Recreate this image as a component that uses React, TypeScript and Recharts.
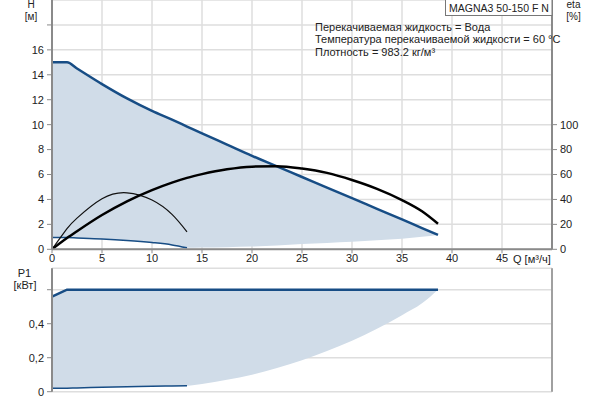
import React from "react";
import {
  Area,
  CartesianGrid,
  ComposedChart,
  Line,
  XAxis,
  YAxis,
} from "recharts";

// Q grid [m³/h], shared by both panels
const qPoints = [0, 1.5, 2.5, 5, 7.5, 10, 12, 13.5, 15, 17.5, 20, 22.5, 25, 27.5, 30, 32.5, 35, 37, 38.6];

// head [m]
const headMax = [15, 15, 14.5, 13.25, 12.1, 11.1, 10.4, 9.85, 9.3, 8.4, 7.5, 6.65, 5.8, 4.95, 4.1, 3.25, 2.4, 1.7, 1.15];
const headMin = [0.95, 0.94, 0.91, 0.83, 0.71, 0.54, 0.35, 0.12, null, null, null, null, null, null, null, null, null, null, null];
const headLow = [0.95, 0.94, 0.91, 0.83, 0.71, 0.54, 0.35, 0.12, 0.14, 0.17, 0.22, 0.3, 0.42, 0.51, 0.6, 0.72, 0.85, 1.0, 1.15];

// efficiency [%]
const etaMax = [0, 9, 14.5, 27.5, 38.5, 47.5, 53.5, 57.3, 60.3, 64.2, 66.3, 66.7, 64.8, 61.3, 55.6, 48.5, 39.5, 30.5, 20.5];
const etaMin = [0, 16.5, 25, 40.5, 45.3, 39.5, 28, 14, null, null, null, null, null, null, null, null, null, null, null];

// power P1 [kW]
const p1Max = [0.56, 0.6, 0.6, 0.6, 0.6, 0.6, 0.6, 0.6, 0.6, 0.6, 0.6, 0.6, 0.6, 0.6, 0.6, 0.6, 0.6, 0.6, 0.6];
const p1Min = [0.02, 0.021, 0.022, 0.026, 0.029, 0.032, 0.034, 0.035, null, null, null, null, null, null, null, null, null, null, null];
const p1Low = [0.02, 0.021, 0.022, 0.026, 0.029, 0.032, 0.034, 0.035, 0.045, 0.07, 0.1, 0.14, 0.185, 0.24, 0.3, 0.37, 0.45, 0.52, 0.6];

const qTicks = [0, 5, 10, 15, 20, 25, 30, 35, 40, 45];
const hTicks = [0, 2, 4, 6, 8, 10, 12, 14, 16, 18];
const etaTicks = [0, 20, 40, 60, 80, 100];
const p1Ticks = [0, 0.2, 0.4, 0.6];

const infoLines = [
  "Перекачиваемая жидкость = Вода",
  "Температура перекачиваемой жидкости = 60 °C",
  "Плотность = 983.2 кг/м³",
];

const rows = qPoints.map((q, i) => ({
  q,
  headMax: headMax[i],
  headMin: headMin[i],
  headLow: headLow[i],
  etaMax: etaMax[i],
  etaMin: etaMin[i],
  p1Max: p1Max[i],
  p1Min: p1Min[i],
  p1Low: p1Low[i],
}));

const AXIS = "#8a8a8a";
const GRID = "#dedede";
const FILL = "#d0dce8";
const BLUE = "#174d85";
const tickStyle = { fontSize: 11, fill: "#222" };

export default function App() {
  return (
    <div
      style={{
        position: "absolute",
        left: 0,
        top: 0,
        width: 600,
        height: 400,
        background: "#fff",
        overflow: "hidden",
        fontFamily: "'Liberation Sans', Arial, sans-serif",
      }}
    >
      <div style={{ position: "absolute", left: 0, top: 0 }}>
        <ComposedChart
          width={600}
          height={270}
          data={rows}
          margin={{ top: 0, right: 0, bottom: 0, left: 0 }}
        >
          <CartesianGrid yAxisId="h" stroke={GRID} strokeWidth={1.5} />
          <XAxis
            dataKey="q"
            type="number"
            domain={[0, 50]}
            ticks={qTicks}
            height={20.7}
            tick={tickStyle}
            tickSize={4}
            tickMargin={1}
            axisLine={{ stroke: AXIS, strokeWidth: 2 }}
            tickLine={{ stroke: AXIS }}
          />
          <YAxis
            yAxisId="h"
            type="number"
            domain={[0, 20]}
            ticks={hTicks}
            width={52}
            tick={tickStyle}
            tickSize={5}
            tickMargin={3}
            tickFormatter={(v: number) => (v === 18 ? "" : String(v))}
            axisLine={{ stroke: AXIS, strokeWidth: 2 }}
            tickLine={{ stroke: AXIS }}
          />
          <YAxis
            yAxisId="eta"
            orientation="right"
            type="number"
            domain={[0, 200]}
            ticks={etaTicks}
            width={48}
            tick={tickStyle}
            tickSize={5}
            tickMargin={3}
            axisLine={{ stroke: AXIS, strokeWidth: 2 }}
            tickLine={{ stroke: AXIS }}
          />
          <Area
            yAxisId="h"
            type="monotone"
            dataKey={(d: any) => [d.headLow, d.headMax]}
            fill={FILL}
            fillOpacity={1}
            stroke="none"
            isAnimationActive={false}
          />
          <Line
            yAxisId="h"
            type="monotone"
            dataKey="headMin"
            stroke={BLUE}
            strokeWidth={1.5}
            dot={false}
            isAnimationActive={false}
          />
          <Line
            yAxisId="h"
            type="monotone"
            dataKey="headMax"
            stroke={BLUE}
            strokeWidth={2.5}
            dot={false}
            isAnimationActive={false}
          />
          <Line
            yAxisId="eta"
            type="natural"
            dataKey="etaMin"
            stroke="#111"
            strokeWidth={1.2}
            dot={false}
            isAnimationActive={false}
          />
          <Line
            yAxisId="eta"
            type="monotone"
            dataKey="etaMax"
            stroke="#000"
            strokeWidth={2.5}
            dot={false}
            isAnimationActive={false}
          />
        </ComposedChart>
      </div>

      <div style={{ position: "absolute", left: 0, top: 262 }}>
        <ComposedChart
          width={600}
          height={138}
          data={rows}
          margin={{ top: 6.3, right: 0, bottom: 8.3, left: 0 }}
        >
          <CartesianGrid yAxisId="p" stroke={GRID} strokeWidth={1.5} />
          <XAxis
            dataKey="q"
            type="number"
            domain={[0, 50]}
            ticks={qTicks}
            height={0}
            tick={false}
            tickLine={false}
            axisLine={{ stroke: AXIS, strokeWidth: 2 }}
          />
          <XAxis
            xAxisId="top"
            orientation="top"
            dataKey="q"
            type="number"
            domain={[0, 50]}
            height={0}
            tick={false}
            tickLine={false}
            axisLine={{ stroke: "#a0a0a0", strokeWidth: 2 }}
          />
          <YAxis
            yAxisId="p"
            type="number"
            domain={[0, 0.726]}
            ticks={p1Ticks}
            width={52}
            tick={tickStyle}
            tickSize={5}
            tickMargin={3}
            tickFormatter={(v: number) =>
              v === 0.6 ? "" : String(v).replace(".", ",")
            }
            axisLine={{ stroke: AXIS, strokeWidth: 2 }}
            tickLine={{ stroke: AXIS }}
          />
          <YAxis
            yAxisId="r"
            orientation="right"
            width={48}
            tick={false}
            tickLine={false}
            axisLine={{ stroke: "#a0a0a0", strokeWidth: 2 }}
          />
          <Area
            yAxisId="p"
            type="monotone"
            dataKey={(d: any) => [d.p1Low, d.p1Max]}
            fill={FILL}
            fillOpacity={1}
            stroke="none"
            isAnimationActive={false}
          />
          <Line
            yAxisId="p"
            type="monotone"
            dataKey="p1Min"
            stroke={BLUE}
            strokeWidth={1.5}
            dot={false}
            isAnimationActive={false}
          />
          <Line
            yAxisId="p"
            type="linear"
            dataKey="p1Max"
            stroke={BLUE}
            strokeWidth={2.5}
            dot={false}
            isAnimationActive={false}
          />
        </ComposedChart>
      </div>

      <svg
        width={600}
        height={400}
        style={{ position: "absolute", left: 0, top: 0, pointerEvents: "none" }}
        fontFamily="'Liberation Sans', Arial, sans-serif"
        fontSize={11}
        fill="#222"
      >
        <text x={31} y={7.5} textAnchor="middle" fontSize={10}>H</text>
        <text x={31} y={19.5} textAnchor="middle" fontSize={10}>[м]</text>
        <text x={573.5} y={7.5} textAnchor="middle" fontSize={10}>eta</text>
        <text x={573.5} y={19.5} textAnchor="middle" fontSize={10}>[%]</text>
        <text x={24.5} y={276.5} textAnchor="middle">P1</text>
        <text x={25} y={288.5} textAnchor="middle">[кВт]</text>
        <text x={513} y={263}>Q [м³/ч]</text>
        <rect x={445.5} y={-1} width={106.5} height={16.5} fill="#fff" stroke="#777" />
        <text x={499} y={12} textAnchor="middle" fontSize={10.5}>MAGNA3 50-150 F N</text>
        {infoLines.map((t, i) => (
          <text key={t} x={315} y={30.5 + i * 12.6}>
            {t}
          </text>
        ))}
      </svg>
    </div>
  );
}
